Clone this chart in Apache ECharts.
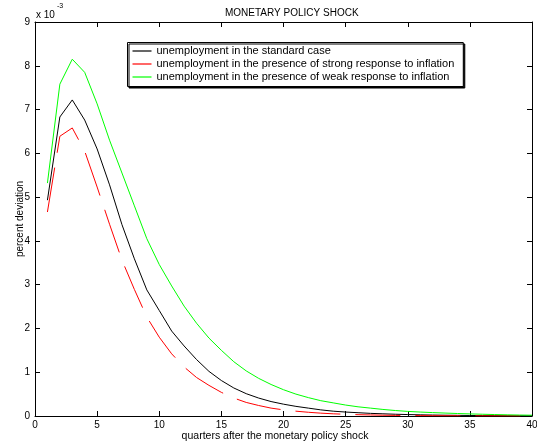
<!DOCTYPE html>
<html>
<head>
<meta charset="utf-8">
<script src="https://cdn.jsdelivr.net/npm/echarts@6/dist/echarts.min.js"></script>
<style>html,body{margin:0;padding:0;background:#fff;}#c{width:537px;height:445px;}</style>
</head>
<body>
<div id="c"></div>
<script>
// quarters 1..40; values in units of 10^-3 (percent deviation)
var quarters = [];
for (var q = 1; q <= 40; q++) quarters.push(q);

var standardCase = [4.93, 6.83, 7.22, 6.76, 6.10, 5.28, 4.37, 3.59, 2.88, 2.41,
  1.94, 1.60, 1.29, 1.02, 0.81, 0.64, 0.51, 0.41, 0.33, 0.27,
  0.22, 0.18, 0.14, 0.11, 0.09, 0.075, 0.06, 0.05, 0.04, 0.033,
  0.027, 0.022, 0.018, 0.015, 0.012, 0.01, 0.008, 0.007, 0.006, 0.005];

var strongResponse = [4.66, 6.39, 6.58, 6.05, 5.23, 4.38, 3.56, 2.89, 2.26, 1.80,
  1.42, 1.12, 0.88, 0.70, 0.54, 0.41, 0.31, 0.24, 0.18, 0.14,
  0.11, 0.085, 0.065, 0.05, 0.04, 0.03, 0.024, 0.018, 0.014, 0.011,
  0.009, 0.007, 0.005, 0.004, 0.003, 0.003, 0.002, 0.002, 0.001, 0.001];

var weakResponse = [5.32, 7.58, 8.15, 7.85, 7.13, 6.30, 5.55, 4.80, 4.05, 3.46,
  2.97, 2.51, 2.12, 1.78, 1.50, 1.24, 1.03, 0.86, 0.72, 0.60,
  0.50, 0.42, 0.35, 0.30, 0.25, 0.21, 0.18, 0.15, 0.125, 0.105,
  0.09, 0.078, 0.067, 0.057, 0.048, 0.04, 0.033, 0.027, 0.022, 0.018];

var seriesNames = [
  'unemployment in the standard case',
  'unemployment in the presence of strong response to inflation',
  'unemployment in the presence of weak response to inflation'
];

var xTicks = { min: 0, max: 40, interval: 5 };
var yTicks = { min: 0, max: 9, interval: 1 };

function pairs(vals) {
  return quarters.map(function (q, i) { return [q, vals[i]]; });
}

var FONT = '"Liberation Sans", Arial, sans-serif';
var chart = echarts.init(document.getElementById('c'), null, { renderer: 'canvas' });

var axisLine = { show: true, onZero: false, lineStyle: { color: '#000', width: 1 } };
var tickIn = { show: true, inside: true, length: 5, lineStyle: { color: '#000', width: 1 } };

chart.setOption({
  animation: false,
  backgroundColor: '#fff',
  title: {
    text: 'MONETARY POLICY SHOCK',
    left: 225, top: 8, padding: 0,
    textStyle: { fontFamily: FONT, fontSize: 10, fontWeight: 'normal', color: '#000' }
  },
  graphic: [
    { type: 'text', left: 36, top: 10, style: { text: 'x 10', font: '10px ' + FONT, fill: '#000' } },
    { type: 'text', left: 57, top: 3, style: { text: '-3', font: '7px ' + FONT, fill: '#000' } }
  ],
  grid: { left: 35, right: 5, top: 22, bottom: 29, containLabel: false, outerBoundsMode: 'none' },
  legend: {
    orient: 'vertical',
    left: 127.5, top: 42.5,
    padding: [2, 9, 3, 5],
    itemGap: 0,
    itemWidth: 19, itemHeight: 1.2,
    icon: 'rect',
    backgroundColor: '#fff',
    borderColor: '#000', borderWidth: 1,
    shadowColor: '#000', shadowBlur: 0, shadowOffsetX: 1.5, shadowOffsetY: 1.5,
    textStyle: { fontFamily: FONT, fontSize: 11, color: '#000', lineHeight: 13, padding: [0, 0, 0, 0] },
    data: seriesNames
  },
  xAxis: [
    {
      type: 'value', min: xTicks.min, max: xTicks.max, interval: xTicks.interval,
      position: 'bottom',
      name: 'quarters after the monetary policy shock',
      nameLocation: 'middle', nameGap: 15, nameMoveOverlap: false,
      nameTextStyle: { fontFamily: FONT, fontSize: 10.5, color: '#000', padding: [0, 17, 0, 0] },
      axisLine: axisLine, axisTick: tickIn,
      axisLabel: { fontFamily: FONT, fontSize: 10, color: '#000', margin: 4 },
      splitLine: { show: false }
    },
    {
      type: 'value', min: xTicks.min, max: xTicks.max, interval: xTicks.interval,
      position: 'top',
      axisLine: axisLine, axisTick: tickIn,
      axisLabel: { show: false }, splitLine: { show: false }
    }
  ],
  yAxis: [
    {
      type: 'value', min: yTicks.min, max: yTicks.max, interval: yTicks.interval,
      position: 'left',
      name: 'percent deviation',
      nameLocation: 'middle', nameGap: 10, nameMoveOverlap: false,
      nameTextStyle: { fontFamily: FONT, fontSize: 10, color: '#000' },
      axisLine: axisLine, axisTick: tickIn,
      axisLabel: { fontFamily: FONT, fontSize: 10, color: '#000', margin: 5 },
      splitLine: { show: false }
    },
    {
      type: 'value', min: yTicks.min, max: yTicks.max, interval: yTicks.interval,
      position: 'right',
      axisLine: axisLine, axisTick: tickIn,
      axisLabel: { show: false }, splitLine: { show: false }
    }
  ],
  series: [
    {
      name: seriesNames[0], type: 'line', data: pairs(standardCase),
      showSymbol: false, symbol: 'none', color: '#000',
      lineStyle: { color: '#000', width: 1 }, z: 3
    },
    {
      name: seriesNames[1], type: 'line', data: pairs(strongResponse),
      showSymbol: false, symbol: 'none', color: '#ff0000',
      lineStyle: { color: '#ff0000', width: 1, type: [45, 15] }, z: 3
    },
    {
      name: seriesNames[2], type: 'line', data: pairs(weakResponse),
      showSymbol: false, symbol: 'none', color: '#00ff00',
      lineStyle: { color: '#00ff00', width: 1 }, z: 3
    }
  ]
});
</script>
</body>
</html>
